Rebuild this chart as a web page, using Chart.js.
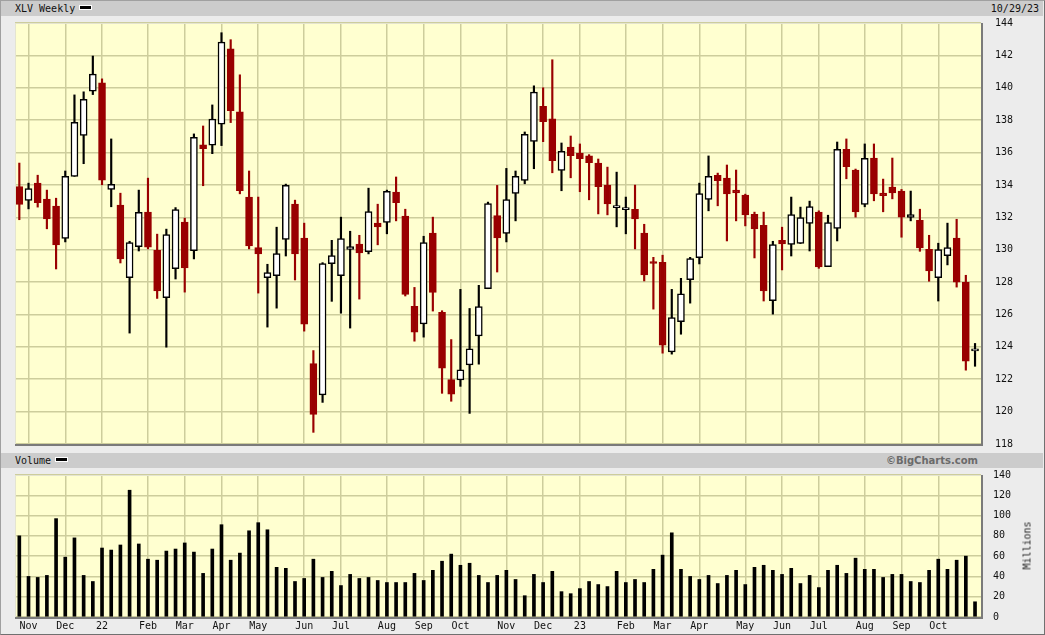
<!DOCTYPE html>
<html>
<head>
<meta charset="utf-8">
<title>XLV Weekly</title>
<script src="https://cdn.jsdelivr.net/npm/chart.js@4.4.0/dist/chart.umd.min.js"></script>
<style>
	html, body { margin: 0; padding: 0; }
	body {
		width: 1045px; height: 635px; position: relative; overflow: hidden;
		background: #ececec; color: #111;
		font-family: 'DejaVu Sans Mono', monospace; font-size: 10px;
	}
	.frame {
		position: absolute; left: 0; top: 0; width: 1043px; height: 633px;
		border: 1px solid #a0a0a0; border-right-color: #707070; border-bottom-color: #707070;
	}
	.strip {
		position: absolute; left: 1px; width: 1042px; height: 15px; line-height: 15px;
		background: #cccccc; z-index: 2;
	}
	.strip .l { position: absolute; left: 14px; top: 0; }
	.strip .r { position: absolute; right: 4px; top: 0; }
	.dash {
		display: inline-block; width: 11px; height: 3px; background: #000;
		border: 1px solid #fff; vertical-align: 2px; margin-left: 4px;
	}
	.brand { font-family: 'DejaVu Sans', sans-serif; font-weight: bold; color: #6a6a6a; }
	canvas { position: absolute; left: 0; z-index: 1; }
	#price { top: 0; }
	#volume { top: 460px; }
	.units {
		position: absolute; left: 997px; top: 540px; width: 60px; text-align: center;
		transform: rotate(-90deg); z-index: 2; color: #222;
	}
</style>
</head>
<body>
<div class="frame"></div>
<div class="strip" style="top:1px">
	<span class="l">XLV Weekly<span class="dash"></span></span>
	<span class="r">10/29/23</span>
</div>
<canvas id="price" width="1045" height="455"></canvas>
<div class="strip" style="top:453px">
	<span class="l">Volume<span class="dash"></span></span>
	<span class="r brand" style="right:65px">©BigCharts.com</span>
</div>
<canvas id="volume" width="1045" height="175"></canvas>
<div class="units">Millions</div>

<script>
// weekly candles, Nov 2021 .. Oct 2023
const opens = [
	133.9, 133.04, 134.11, 133.12, 132.69, 130.69, 134.53, 137.06, 139.79, 140.31,
	133.72, 132.75, 128.27, 130.19, 132.32, 129.96, 127.03, 128.83, 131.7, 129.94,
	136.47, 136.45, 137.75, 142.41, 138.51, 133.25, 130.13, 128.27, 128.4, 130.63,
	132.81, 130.71, 122.97, 121.03, 129.14, 128.4, 130.01, 130.34, 129.88, 131.64,
	131.68, 133.56, 132.07, 126.5, 125.42, 131.02, 126.13, 121.98, 121.96, 122.89,
	124.68, 127.59, 132.11, 131.0, 133.47, 134.28, 136.69, 138.86, 138.08, 134.9,
	136.34, 135.97, 135.79, 135.35, 133.99, 132.6, 132.47, 132.5, 131.02, 129.22,
	129.22, 123.69, 125.55, 128.15, 129.51, 133.1, 134.59, 134.42, 133.68, 133.37,
	132.19, 131.51, 126.85, 130.58, 130.32, 130.38, 131.62, 132.32, 128.95, 131.31,
	136.2, 134.92, 132.79, 135.66, 133.49, 133.87, 133.62, 131.99, 131.82, 130.03,
	128.27, 129.63, 130.71, 127.98, 123.75
];
const highs = [
	135.35, 134.11, 134.6, 133.68, 133.18, 134.86, 139.56, 139.75, 141.96, 140.55,
	136.84, 133.49, 130.52, 133.68, 134.42, 130.96, 131.27, 132.6, 131.95, 137.15,
	137.64, 138.94, 143.4, 142.97, 140.8, 134.86, 133.25, 129.1, 131.39, 134.05,
	133.06, 131.64, 123.77, 129.2, 130.58, 132.01, 131.14, 130.89, 133.8, 132.81,
	133.68, 134.49, 132.5, 127.67, 130.83, 132.01, 126.23, 124.45, 127.55, 126.37,
	127.8, 132.94, 133.97, 135.02, 134.86, 137.27, 140.12, 140.0, 141.73, 136.59,
	137.02, 136.53, 135.87, 135.6, 135.1, 134.79, 133.25, 133.99, 131.57, 129.53,
	129.66, 127.55, 128.23, 129.53, 134.11, 135.79, 134.73, 135.23, 134.92, 133.43,
	132.32, 132.32, 130.52, 131.39, 133.25, 132.63, 133.0, 132.4, 132.13, 136.65,
	136.84, 134.98, 136.53, 136.53, 134.36, 135.66, 133.72, 133.62, 132.5, 130.89,
	130.4, 131.64, 131.88, 128.42, 124.21
];
const lows = [
	131.85, 132.52, 132.63, 131.29, 128.81, 130.48, 134.53, 135.31, 139.58, 134.01,
	132.65, 129.18, 124.85, 129.92, 130.05, 126.99, 123.98, 128.19, 127.38, 129.43,
	133.95, 135.93, 136.43, 137.85, 133.45, 130.05, 127.32, 125.22, 126.39, 129.61,
	128.13, 124.97, 118.72, 120.57, 126.81, 126.08, 125.16, 126.95, 129.74, 130.3,
	130.98, 131.78, 127.14, 124.35, 124.6, 126.21, 121.13, 120.64, 121.56, 119.89,
	122.93, 127.59, 128.62, 130.48, 131.78, 134.07, 135.0, 136.67, 134.75, 133.64,
	134.44, 133.58, 133.08, 132.21, 132.15, 131.41, 130.98, 130.05, 128.07, 126.33,
	123.61, 123.55, 124.78, 126.7, 129.12, 132.4, 132.71, 130.54, 131.78, 131.47,
	129.49, 126.83, 126.02, 128.75, 129.61, 130.38, 129.92, 128.85, 128.95, 130.54,
	134.38, 132.01, 132.65, 133.02, 132.34, 133.14, 130.77, 131.78, 129.9, 128.05,
	126.83, 129.06, 127.69, 122.56, 122.8
];
const closes = [
	132.8, 133.78, 132.9, 131.9, 130.3, 134.53, 137.87, 139.29, 140.84, 134.3,
	134.03, 129.43, 130.44, 132.3, 130.15, 127.45, 130.94, 132.48, 128.87, 136.94,
	136.24, 138.06, 142.82, 138.59, 133.64, 130.23, 129.74, 128.58, 129.76, 133.97,
	129.74, 125.4, 119.83, 129.14, 129.63, 130.69, 130.19, 129.8, 132.36, 131.41,
	133.6, 132.9, 127.24, 124.91, 130.44, 127.36, 122.68, 121.07, 122.58, 123.88,
	126.48, 132.85, 130.73, 133.1, 134.53, 137.13, 139.73, 137.91, 135.5, 136.07,
	135.81, 135.62, 135.37, 133.89, 132.83, 132.65, 132.5, 131.9, 128.44, 129.15,
	124.1, 125.8, 127.28, 129.45, 133.47, 134.53, 134.26, 133.45, 133.51, 132.15,
	131.29, 127.45, 130.32, 130.36, 132.17, 131.99, 132.67, 128.93, 131.68, 136.2,
	135.12, 132.34, 135.64, 133.45, 133.33, 133.51, 132.01, 132.17, 130.11, 128.69,
	130.01, 130.13, 128.0, 123.11, 123.8
];
// millions of shares
const volumes = [
	80, 40, 39, 41, 97, 59, 78, 41, 35, 68,
	66, 71, 125, 72, 57, 56, 65, 67, 73, 64,
	43, 67, 91, 56, 63, 85, 93, 86, 49, 48,
	35, 38, 57, 39, 45, 31, 42, 38, 39, 36,
	34, 34, 34, 43, 36, 46, 55, 62, 51, 53,
	41, 34, 41, 46, 37, 21, 42, 34, 45, 25,
	23, 28, 35, 32, 30, 45, 34, 37, 34, 47,
	61, 83, 47, 40, 37, 41, 33, 41, 46, 32,
	49, 51, 46, 42, 48, 33, 41, 29, 46, 51,
	43, 58, 47, 47, 39, 42, 42, 35, 34, 46,
	57, 47, 56, 60, 15
];
// week index where each month starts
const monthTicks = [1, 5, 9, 14, 18, 22, 26, 31, 35, 40, 44, 48, 53, 57, 61, 66, 70, 74, 79, 83, 87, 92, 96, 100];
const monthLabels = ['Nov', 'Dec', '22', 'Feb', 'Mar', 'Apr', 'May', 'Jun', 'Jul', 'Aug', 'Sep', 'Oct',
	'Nov', 'Dec', '23', 'Feb', 'Mar', 'Apr', 'May', 'Jun', 'Jul', 'Aug', 'Sep', 'Oct'];

const RED = '#990000';
const GRID = '#cdcd9c';
const FONT = { family: "'DejaVu Sans Mono', monospace", size: 10 };
const isUp = i => closes[i] >= opens[i];

const panelBg = {
	id: 'panelBg',
	beforeDraw(chart) {
		const { ctx, chartArea: a } = chart;
		ctx.save();
		ctx.fillStyle = '#ffffd0';
		ctx.fillRect(a.left, a.top, a.right - a.left, a.bottom - a.top);
		ctx.restore();
	},
	afterDraw(chart) {
		const { ctx, chartArea: a } = chart;
		ctx.save();
		ctx.strokeStyle = '#e4e4d0';
		ctx.lineWidth = 1;
		ctx.beginPath();
		ctx.moveTo(a.left + 0.5, a.bottom);
		ctx.lineTo(a.left + 0.5, a.top + 0.5);
		ctx.lineTo(a.right, a.top + 0.5);
		ctx.stroke();
		ctx.strokeStyle = '#7a7a7a';
		ctx.lineWidth = 2;
		ctx.beginPath();
		ctx.moveTo(a.left, a.bottom + 1);
		ctx.lineTo(a.right + 1, a.bottom + 1);
		ctx.lineTo(a.right + 1, a.top);
		ctx.stroke();
		ctx.restore();
	}
};

const xAxis = showLabels => ({
	type: 'linear',
	min: -0.47,
	max: 104.65,
	offset: false,
	afterBuildTicks: s => { s.ticks = monthTicks.map(v => ({ value: v })); },
	afterFit: s => { s.height = showLabels ? 18 : 0; },
	grid: { color: GRID, lineWidth: 1.5, drawTicks: false, offset: false },
	border: { display: false },
	ticks: {
		display: showLabels, autoSkip: false, maxRotation: 0, padding: 3,
		font: FONT, color: '#111',
		callback: (v, i) => monthLabels[i]
	}
});

// label gap comes from an invisible tick mark, so ticks.padding stays 0
// (ticks.padding would also push the plot edges in)
const yAxis = (min, max, step, gap) => ({
	position: 'right',
	min: min,
	max: max,
	afterFit: s => { s.width = 64; },
	grid: { color: GRID, lineWidth: 1.5, drawTicks: true, tickLength: gap, tickColor: 'rgba(0,0,0,0)' },
	border: { display: false },
	ticks: { stepSize: step, padding: 0, font: FONT, color: '#111' }
});

const baseOptions = (padding, x, y) => ({
	responsive: false,
	maintainAspectRatio: false,
	animation: false,
	layout: { padding: padding },
	plugins: { legend: { display: false }, tooltip: { enabled: false } },
	scales: { x: x, y: y }
});

new Chart(document.getElementById('price').getContext('2d'), {
	type: 'bar',
	data: {
		datasets: [
			{
				label: 'range',
				data: lows.map((l, i) => ({ x: i, y: [l, highs[i]] })),
				backgroundColor: c => isUp(c.dataIndex) ? '#000' : RED,
				barThickness: 1.5,
				grouped: false,
				order: 2
			},
			{
				label: 'body',
				data: opens.map((o, i) => ({ x: i, y: [o, closes[i]] })),
				backgroundColor: c => isUp(c.dataIndex) ? '#fff' : RED,
				borderColor: c => isUp(c.dataIndex) ? '#000' : RED,
				borderWidth: 1.5,
				borderSkipped: false,
				minBarLength: 2,
				barThickness: 7,
				grouped: false,
				order: 1
			}
		]
	},
	options: baseOptions({ left: 15, top: 23, right: 0, bottom: 11 }, xAxis(false), yAxis(118, 144, 2, 14)),
	plugins: [panelBg]
});

new Chart(document.getElementById('volume').getContext('2d'), {
	type: 'bar',
	data: {
		datasets: [{
			label: 'Volume',
			data: volumes.map((v, i) => ({ x: i, y: v })),
			backgroundColor: '#000',
			barThickness: 3
		}]
	},
	options: baseOptions({ left: 15, top: 15, right: 0, bottom: 0 }, xAxis(true), yAxis(0, 140, 20, 12)),
	plugins: [panelBg]
});
</script>
</body>
</html>
